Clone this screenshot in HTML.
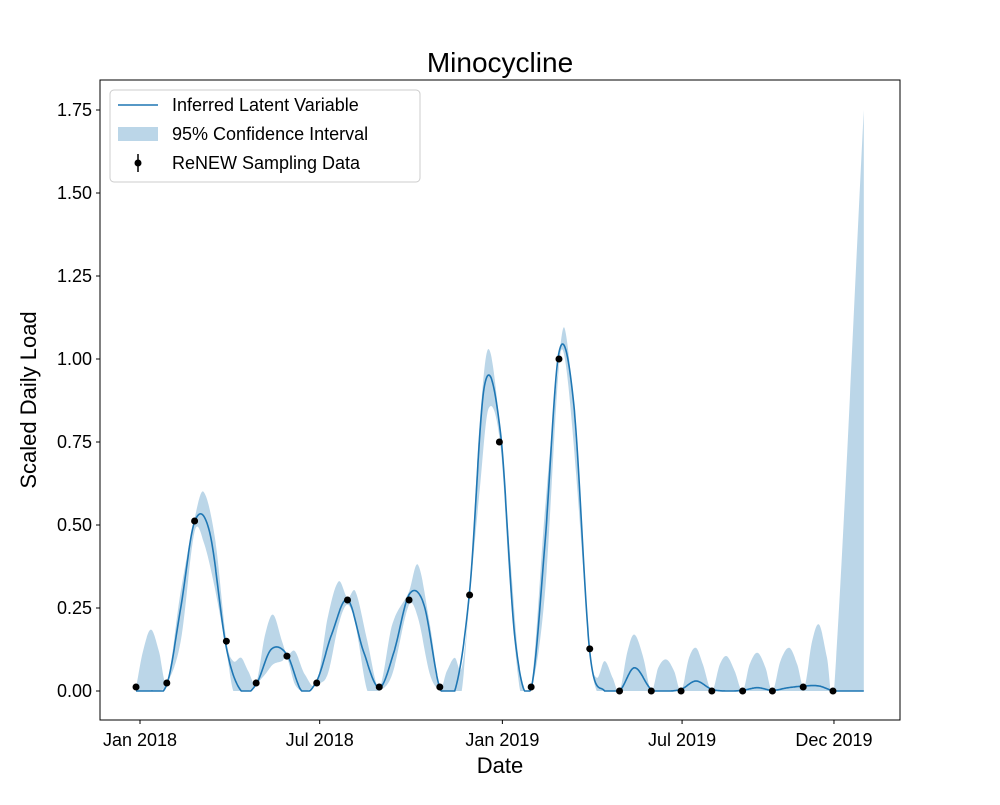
<!DOCTYPE html>
<html><head><meta charset="utf-8"><style>
body{margin:0;background:#fff}
svg text{font-family:"Liberation Sans","DejaVu Sans",sans-serif;fill:#000}
</style></head><body>
<svg id="chart" width="1000" height="800"></svg>
<script>
// Data (days since Jan 1 2018)
const sampleDays=[-4,27,55,87,117,148,178,209,241,271,302,332,362,394,422,453,483,515,545,576,607,637,668,698];
const sampleValues=[0.012,0.024,0.512,0.15,0.024,0.105,0.024,0.274,0.012,0.274,0.012,0.289,0.75,0.012,1.0,0.127,0,0,0,0,0,0,0.012,0];
const latentDays=[-4,11,27,41,55,70,87,102,117,132,148,163,178,193,209,225,241,256,271,286,302,317,332,347,363,378,394,408,422,437,453,468,483,498,515,530,545,560,576,591,607,622,637,653,669,684,699,714,729];
const latentValues=[0,0,0.02,0.25,0.51,0.48,0.13,0,0.02,0.125,0.11,0,0.03,0.17,0.275,0.12,0.01,0.12,0.29,0.26,0.01,0,0.3,0.92,0.78,0.15,0.01,0.45,1.02,0.86,0.12,0,0,0.07,0.005,0,0.005,0.03,0.005,0,0.002,0.01,0.002,0.01,0.015,0.015,0,0,0];
const ciDays=[-4,3,11,19,27,41,55,64,76,87,94,102,109,117,126,134,143,148,156,166,178,189,200,209,217,229,241,254,271,280,292,302,309,317,324,332,342,351,363,373,383,394,408,422,428,438,453,460,468,476,483,491,498,507,515,522,530,538,545,553,560,567,576,584,591,599,607,614,622,630,637,645,654,662,669,677,684,692,699,729];
const ciUpper=[0.01,0.12,0.185,0.12,0.025,0.3,0.52,0.6,0.45,0.15,0.09,0.1,0.06,0.025,0.17,0.23,0.15,0.11,0.12,0.05,0.025,0.22,0.33,0.28,0.3,0.15,0.012,0.2,0.3,0.38,0.2,0.012,0.06,0.1,0.07,0.29,0.8,1.03,0.78,0.4,0.05,0.012,0.55,1.0,1.09,0.8,0.127,0.04,0.09,0.04,0,0.12,0.17,0.1,0,0.07,0.095,0.06,0,0.1,0.13,0.08,0,0.08,0.105,0.06,0,0.08,0.115,0.07,0,0.09,0.13,0.08,0.012,0.15,0.2,0.1,0,1.75];
const ciLower=[0,0,0,0,0.02,0.15,0.48,0.45,0.3,0.12,0,0,0,0.02,0.05,0.08,0.09,0.1,0.02,0,0.02,0.05,0.2,0.26,0.2,0,0,0.05,0.26,0.22,0.05,0,0,0,0,0.28,0.6,0.85,0.74,0.3,0,0,0.3,0.98,1.0,0.7,0.12,0,0,0,0,0,0,0,0,0,0,0,0,0,0,0,0,0,0,0,0,0,0,0,0,0,0,0,0,0,0,0,0,0];
const yTicks=[0,0.25,0.5,0.75,1.0,1.25,1.5,1.75];
const xTickDays=[0,181,365,546,699];
const xTickLabels=["Jan 2018","Jul 2018","Jan 2019","Jul 2019","Dec 2019"];

const NS="http://www.w3.org/2000/svg";
const svg=document.getElementById('chart');
const L=100,R=900,T=80,B=720;
const X=d=>140+d*0.9928;
const Y=v=>691-v*332;
function el(t,a,p){const e=document.createElementNS(NS,t);for(const k in a)e.setAttribute(k,a[k]);(p||svg).appendChild(e);return e;}
function interp(xs,ys,t){
  let i=0;while(i<xs.length-2&&t>xs[i+1])i++;
  const x0=xs[i],x1=xs[i+1],y0=ys[i],y1=ys[i+1],h=x1-x0;
  const m=j=>{if(j<=0)return (ys[1]-ys[0])/(xs[1]-xs[0]);if(j>=xs.length-1)return (ys[j]-ys[j-1])/(xs[j]-xs[j-1]);return (ys[j+1]-ys[j-1])/(xs[j+1]-xs[j-1]);};
  const s=(t-x0)/h,m0=m(i)*h,m1=m(i+1)*h;
  const s2=s*s,s3=s2*s;
  return (2*s3-3*s2+1)*y0+(s3-2*s2+s)*m0+(-2*s3+3*s2)*y1+(s3-s2)*m1;
}
let up=[],lo=[];
for(let d=ciDays[0];d<=ciDays[ciDays.length-1];d+=0.5){
  const u=Math.max(0,interp(ciDays,ciUpper,d));
  const l=Math.max(0,Math.min(u,interp(ciDays,ciLower,d)));
  up.push(X(d).toFixed(1)+','+Y(u).toFixed(1));lo.push(X(d).toFixed(1)+','+Y(l).toFixed(1));
}
const band=el('polygon',{points:up.concat(lo.reverse()).join(' '),fill:'#1f77b4','fill-opacity':0.3,stroke:'none'});


let lp=[];
for(let d=latentDays[0];d<=latentDays[latentDays.length-1];d+=0.5){
  const v=Math.max(0,interp(latentDays,latentValues,d));lp.push(X(d).toFixed(1)+','+Y(v).toFixed(1));
}
const line=el('polyline',{points:lp.join(' '),fill:'none',stroke:'#1f77b4','stroke-width':1.6});


sampleDays.forEach((d,i)=>{
  const c=el('circle',{cx:X(d),cy:Y(sampleValues[i]),r:3.5,fill:'#000'});
  
  
});
const fr=el('rect',{x:L,y:T,width:R-L,height:B-T,fill:'none',stroke:'#000','stroke-width':1});


yTicks.forEach(v=>{
  el('line',{x1:L-4,x2:L,y1:Y(v),y2:Y(v),stroke:'#000'});
  const t=el('text',{x:L-8,y:Y(v)+6,'text-anchor':'end','font-size':18});t.textContent=v.toFixed(2);
  
  
});
xTickDays.forEach((d,i)=>{
  el('line',{x1:X(d),x2:X(d),y1:B,y2:B+4,stroke:'#000'});
  const t=el('text',{x:X(d),y:B+26,'text-anchor':'middle','font-size':18});t.textContent=xTickLabels[i];
  
  
});
</script>
<div style="position:absolute;left:0;top:0;width:1000px;height:800px;pointer-events:none">
<svg width="1000" height="800">
<text x="500" y="72" text-anchor="middle" font-size="28">Minocycline</text>
<text x="500" y="773" text-anchor="middle" font-size="22">Date</text>
<text x="36" y="400" text-anchor="middle" font-size="22" transform="rotate(-90 36 400)">Scaled Daily Load</text>
<g>
<rect x="110" y="90" width="310" height="92" rx="4" fill="#fff" fill-opacity="0.8" stroke="#ccc"/>
<line x1="118" x2="158" y1="105" y2="105" stroke="#1f77b4" stroke-width="1.6"/>
<text x="172" y="111" font-size="18">Inferred Latent Variable</text>
<rect x="118" y="127" width="40" height="14" fill="#1f77b4" fill-opacity="0.3"/>
<text x="172" y="140" font-size="18">95% Confidence Interval</text>
<line x1="138" x2="138" y1="154" y2="172" stroke="#000" stroke-width="1.5"/>
<circle cx="138" cy="163" r="3.5" fill="#000"/>
<text x="172" y="169" font-size="18">ReNEW Sampling Data</text>
</g>
</svg></div>
</body></html>
